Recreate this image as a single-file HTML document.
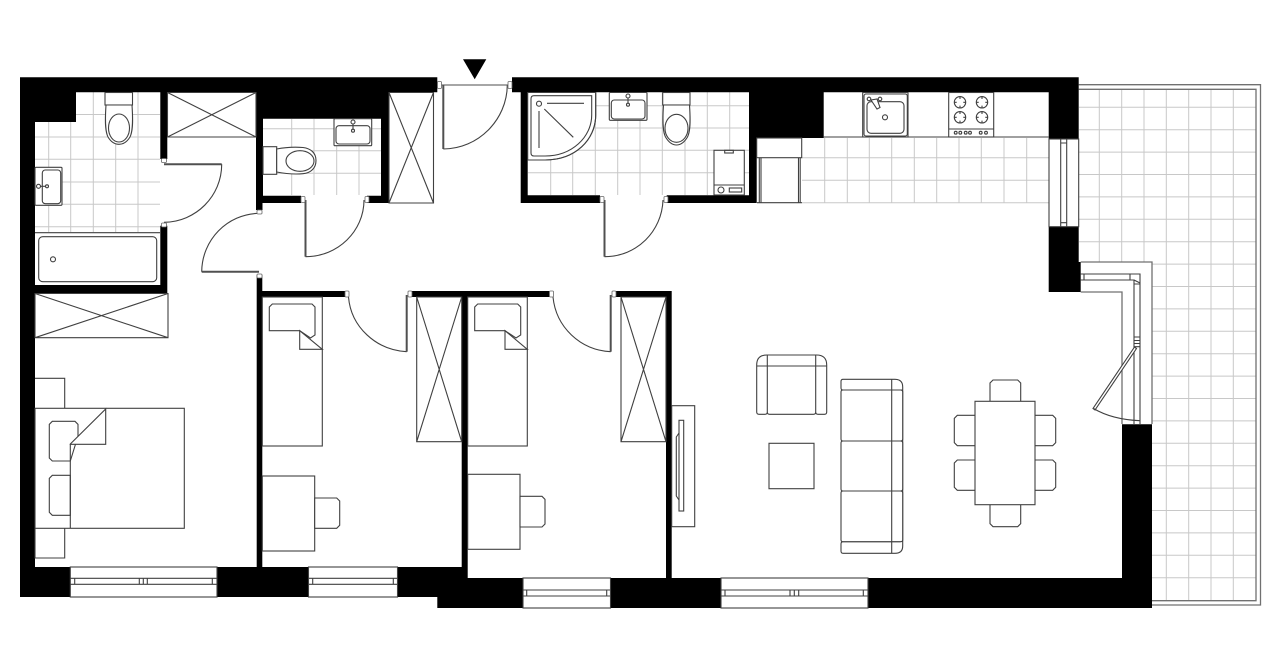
<!DOCTYPE html>
<html>
<head>
<meta charset="utf-8">
<title>Floor plan</title>
<style>
html,body{margin:0;padding:0;background:#fff;width:1280px;height:667px;overflow:hidden}
svg{display:block}
.t{fill:none;stroke:#c8c8c8;stroke-width:1}
.f{fill:#fff;stroke:#404040;stroke-width:1.1}
.n{fill:none;stroke:#404040;stroke-width:1.1}
.g{fill:none;stroke:#707070;stroke-width:1.3}
.d{fill:none;stroke:#505050;stroke-width:2}
.h{fill:#fff;stroke:#666;stroke-width:.8}
.k{fill:#000;stroke:none}
</style>
</head>
<body>
<svg width="1280" height="667" viewBox="0 0 1280 667" xmlns="http://www.w3.org/2000/svg">
<rect width="1280" height="667" fill="#fff"/>

<!-- tiles -->
<path class="t" d="M48.7 122V232M70.7 122V232M93.3 92V232M115.7 92V232M138 92V232M76 114.5H160M35 137H160M35 159.3H160M35 182H160M35 204.3H160M35 226.7H160"/>
<path class="t" d="M291.7 119V195M314 119V195M336.7 119V195M359 119V195M263 128.7H381M263 150.7H381M263 173.3H381"/>
<path class="t" d="M550.7 92V195M572.7 92V195M595.3 92V195M617.7 92V195M640 92V195M662.3 92V195M685 92V195M707.3 92V195M729.7 92V195M528 105.7H749M528 128H749M528 150.3H749M528 172.7H749"/>
<path class="t" d="M824.7 138V202.7M847.3 138V202.7M869.3 138V202.7M891.7 138V202.7M914.3 138V202.7M936.7 138V202.7M959 138V202.7M981.3 138V202.7M1004 138V202.7M1026.7 138V202.7M802 157.7H1049M802 180.3H1049M802 202.7H1049"/>

<!-- terrace grid -->
<path class="t" d="M1099.3 89V262M1121.7 89V262M1144 89V262M1166.3 89V600.5M1188.7 89V600.5M1211 89V600.5M1233.3 89V600.5
M1079 107.3H1256M1079 129.7H1256M1079 152.1H1256M1079 174.5H1256M1079 196.9H1256M1079 219.3H1256M1079 241.7H1256
M1152 264.1H1256M1152 286.5H1256M1152 308.9H1256M1152 331.3H1256M1152 353.7H1256M1152 376.1H1256M1152 398.5H1256M1152 420.9H1256M1152 443.3H1256M1152 465.7H1256M1152 488.1H1256M1152 510.5H1256M1152 532.9H1256M1152 555.3H1256M1152 577.7H1256"/>
<path class="g" d="M1078.7 84.7H1260.5V605H1152M1078.7 89.3H1256V600.7H1152"/>

<!-- walls -->
<path class="k" d="M20 77.3H437.3V92.3H389V203H367V195.7H381V118.7H263V195.7H301V203H262.5V210H256V92.3H167.3V159H160.3V92.3H76V122H35V285H160.3V225.7H167.3V293H35V567H256.7V275H262.3V291H345.5V297H262.3V567H397.5V597H20Z"/>
<path class="k" d="M410 291H549.3V297H467.7V578H523V608H437.3V597H397.5V567H461.7V297H410Z"/>
<path class="k" d="M615 291H671.7V578H721V608H610.5V578H666V297H615Z"/>
<path class="k" d="M868 578H1122V424.3H1152V608H868Z"/>
<path class="k" d="M512 77.3H1078.7V139H1048.7V92.3H823.7V138H756.7V203H666.7V195.3H749V92.3H527.7V195.3H600V203H520.7V92.3H512Z"/>
<path class="k" d="M1048.7 226.7H1078.7V262H1080.7V292H1048.7Z"/>

<!-- entrance triangle -->
<path class="k" d="M463 59.3H486.3L474.7 79.3Z"/>

<!-- closets -->
<path class="n" d="M167.5 92.5H256V137H167.5ZM167.5 92.5L256 137M256 92.5L167.5 137"/>
<path class="n" d="M389 92.5H433.5V203H389ZM389 92.5L433.5 203M433.5 92.5L389 203"/>
<path class="n" d="M35 293.5H168V337.7H35ZM35 293.5L168 337.7M168 293.5L35 337.7"/>
<path class="n" d="M416.7 297H461.7V441.7H416.7ZM416.7 297L461.7 441.7M461.7 297L416.7 441.7"/>
<path class="n" d="M621 297H666V441.7H621ZM621 297L666 441.7M666 297L621 441.7"/>

<!-- bathroom left -->
<path class="n" d="M35 232.7H160"/>
<rect class="f" x="38.7" y="236.7" width="118" height="45" rx="4"/>
<circle class="n" cx="53" cy="259.3" r="2.5"/>
<rect class="f" x="105" y="92.5" width="27.5" height="12.5"/>
<path class="f" d="M106 105C105 120 105 131 108 137C111 142 115 144.3 119 144.3C123 144.3 127 142 130 137C133 131 133 120 132 105Z"/>
<ellipse class="n" cx="119" cy="128" rx="10.5" ry="14"/>
<rect class="f" x="35" y="167.3" width="27" height="38" rx="1"/>
<rect class="n" x="42.3" y="170" width="18.4" height="33.7" rx="3"/>
<path class="n" d="M38.5 186.3H47"/>
<circle class="f" cx="38.5" cy="186.3" r="2"/><circle class="f" cx="47" cy="186.3" r="1.5"/>

<!-- WC -->
<rect class="f" x="263" y="146.7" width="13.7" height="27.6"/>
<path class="f" d="M276.7 149C287 147 296 147 303 147.5C311 148.5 316 153 316 160.5C316 168 311 173 303 173.7C296 174.3 287 174 276.7 172Z"/>
<ellipse class="n" cx="300" cy="161" rx="14" ry="10.3"/>
<rect class="f" x="334" y="118.7" width="37.7" height="27" rx="1"/>
<rect class="n" x="336" y="125.7" width="34" height="18.3" rx="3"/>
<path class="n" d="M353 122V130.7"/>
<circle class="f" cx="353" cy="122" r="2"/><circle class="f" cx="353" cy="130.7" r="1.5"/>

<!-- bathroom right -->
<path class="f" d="M527.7 92.5H595.7V115C595.7 140 575 160 545 160H527.7Z" stroke="none"/>
<path class="n" d="M595.7 92.5V115C595.7 140 575 160 545 160H527.7"/>
<path class="n" d="M534 95.7H591.7V115C591.7 137 572 156 545 156H534Q531 156 531 153V98.7Q531 95.7 534 95.7Z"/>
<circle class="n" cx="539" cy="103.7" r="2.5"/>
<path class="n" d="M547 103.3H584M539 111V148M544.3 109L573.3 137.3"/>
<rect class="f" x="609.3" y="92.5" width="37.7" height="27.8" rx="1"/>
<rect class="n" x="611.3" y="100" width="33.7" height="19" rx="3"/>
<path class="n" d="M628 96V104.7"/>
<circle class="f" cx="628" cy="96" r="2"/><circle class="f" cx="628" cy="104.7" r="1.5"/>
<rect class="f" x="662.7" y="92.5" width="27.3" height="12.5"/>
<path class="f" d="M663.5 105C662.5 120 662.5 131 665.5 137C668.5 142 672.5 145 676.5 145C680.5 145 684.5 142 687.5 137C690.5 131 690.5 120 689.5 105Z"/>
<ellipse class="n" cx="676.5" cy="128.3" rx="11.5" ry="14"/>
<rect class="f" x="714" y="150.3" width="30.3" height="44.7"/>
<path class="n" d="M714 185H744.3"/>
<rect class="n" x="724.7" y="150.3" width="8.6" height="2.7"/>
<circle class="n" cx="721" cy="190" r="3"/>
<rect class="n" x="729.3" y="188" width="12.4" height="4"/>

<!-- kitchen -->
<path class="n" d="M823.7 137H1048.7"/>
<rect class="f" x="756.7" y="138" width="45" height="19.7"/>
<path class="n" d="M759.3 157.7V202.7M761 157.7V202.7M798.5 157.7V202.7M800.2 157.7V202.7M757 202.7H802"/>
<rect class="f" x="862.7" y="92.5" width="45.3" height="44.5"/>
<rect class="n" x="864" y="94" width="43.3" height="42" rx="2"/>
<rect class="n" x="867" y="101.7" width="37" height="31.6" rx="4"/>
<circle class="n" cx="885" cy="117.3" r="2.5"/>
<circle class="f" cx="869" cy="99" r="1.8"/><circle class="f" cx="880" cy="99" r="1.8"/>
<path class="f" d="M871 100L877 109L880 107.5L877 99Z"/>
<rect class="f" x="948.7" y="92.5" width="45" height="44.5"/>
<path class="n" d="M948.7 129H993.7"/>
<g class="n">
<circle cx="960" cy="102.3" r="5.7"/><circle cx="982" cy="102.3" r="5.7"/>
<circle cx="960" cy="117.3" r="5.7"/><circle cx="982" cy="117.3" r="5.7"/>
<path d="M960 96.6V99M960 105.6V108M954.3 102.3H956.7M963.3 102.3H965.7M982 96.6V99M982 105.6V108M976.3 102.3H978.7M985.3 102.3H987.7M960 111.6V114M960 120.6V123M954.3 117.3H956.7M963.3 117.3H965.7M982 111.6V114M982 120.6V123M976.3 117.3H978.7M985.3 117.3H987.7"/>
<circle cx="955.7" cy="132.7" r="1.4"/><circle cx="960.3" cy="132.7" r="1.4"/><circle cx="965.7" cy="132.7" r="1.4"/><circle cx="970" cy="132.7" r="1.4"/><circle cx="980.7" cy="132.7" r="1.4"/><circle cx="986" cy="132.7" r="1.4"/>
</g>

<!-- kitchen window -->
<rect class="f" x="1049" y="139" width="29.7" height="87.7"/>
<path class="n" d="M1060.7 139V226.7M1066.7 139V226.7M1060.7 143H1066.7M1060.7 222.7H1066.7"/>

<!-- bottom windows -->
<g>
<rect class="f" x="70.3" y="567" width="146.7" height="30"/>
<path class="n" d="M70.3 578.3H217M70.3 584.3H217M74.7 578.3V584.3M139.3 578.3V584.3M143.3 578.3V584.3M147.3 578.3V584.3M212.3 578.3V584.3"/>
<rect class="f" x="308.5" y="567" width="89" height="30"/>
<path class="n" d="M308.5 578.3H397.5M308.5 584.3H397.5M312.7 578.3V584.3M393.3 578.3V584.3"/>
<rect class="f" x="523" y="578" width="87.5" height="30"/>
<path class="n" d="M523 590H610.5M523 596H610.5M526.7 590V596M606.7 590V596"/>
<rect class="f" x="721" y="578" width="147" height="30"/>
<path class="n" d="M721 590H868M721 596H868M725 590V596M790 590V596M794.3 590V596M798.7 590V596M863.3 590V596"/>
</g>

<!-- bay window and terrace door -->
<path d="M1081 262.5H1152V424H1122V292H1081Z" fill="#fff" stroke="none"/>
<path class="g" d="M1080.7 262H1152V424M1080.7 292H1122V424"/>
<path class="n" d="M1080.7 274H1140V337M1080.7 280H1134V337M1134 346.7V424M1140 346.7V424M1084 274V280M1130 274V280M1134 280L1140 283M1134 284H1140M1134 337H1140V346.7H1134ZM1134 340.5H1140M1134 343.5H1140"/>
<path class="f" d="M1134.5 347L1136.5 348.5L1095 410L1093 408.5Z"/>
<path class="n" d="M1093.5 408.5Q1112 419.5 1140 420.7"/>

<!-- doors: entrance -->
<path class="g" d="M441 85H510"/>
<path class="d" d="M443.3 85V149"/>
<path class="n" d="M443.3 149C478 149 507 120 507.3 85"/>
<rect class="h" x="437.5" y="81.5" width="4" height="7" rx="1"/>
<rect class="h" x="508" y="81.5" width="4" height="7" rx="1"/>
<!-- bath door -->
<path class="d" d="M164 164.3H221.7"/>
<path class="n" d="M221.7 164.3C221.7 196 196 222 164 222.3"/>
<rect class="h" x="161.5" y="158.5" width="5" height="4" rx="1"/>
<rect class="h" x="161.5" y="223" width="5" height="4" rx="1"/>
<!-- bedroom door -->
<path class="d" d="M259 271.7H201.7"/>
<path class="n" d="M201.7 271.7C202 240 227 214 259 213.3"/>
<rect class="h" x="257" y="210" width="5" height="4" rx="1"/>
<rect class="h" x="257" y="274" width="5" height="4" rx="1"/>
<!-- WC door -->
<path class="d" d="M305.5 200V256.7"/>
<path class="n" d="M305.5 256.7C338 256.7 364 231 364 200"/>
<rect class="h" x="301" y="196.5" width="4" height="6" rx="1"/>
<rect class="h" x="365" y="196.5" width="4" height="6" rx="1"/>
<!-- bath right door -->
<path class="d" d="M604.5 200V256.7"/>
<path class="n" d="M604.5 256.7C637 256.7 662 231 663 200"/>
<rect class="h" x="600" y="196.5" width="4" height="6" rx="1"/>
<rect class="h" x="664" y="196.5" width="4" height="6" rx="1"/>
<!-- room doors -->
<path class="d" d="M406.7 295V351.7"/>
<path class="n" d="M348.5 297C351 327 376 350 406.7 351.7"/>
<rect class="h" x="345" y="291" width="4" height="6" rx="1"/>
<rect class="h" x="408" y="291" width="4" height="6" rx="1"/>
<path class="d" d="M610.7 295V351.7"/>
<path class="n" d="M553 297C556 327 580 350 610.7 351.7"/>
<rect class="h" x="549.5" y="291" width="4" height="6" rx="1"/>
<rect class="h" x="612" y="291" width="4" height="6" rx="1"/>

<!-- double bed -->
<path class="n" d="M35 378.3H64.7V408.3M35 528.3V558H64.7V528.3"/>
<rect class="f" x="35" y="408.3" width="149.3" height="120"/>
<path class="f" d="M70.3 461H52.3L49.3 458V424.3L52.3 421.3H75L78 424.3V436.2Z"/>
<path class="f" d="M70.3 475.3H52.3L49.3 478.3V512.3L52.3 515.3H70.3Z"/>
<path class="n" d="M70.3 444V528.3"/>
<path class="f" d="M70.3 444L105.7 409V444.3H70.3Z"/>

<!-- single bed 1 -->
<rect class="f" x="262.3" y="297" width="60" height="149"/>
<path class="f" d="M269.3 330.7V307L272.3 304H312L315 307V335L310.5 338L299.7 330.7Z"/>
<path class="f" d="M299.7 330.7L322.3 349.3H299.7Z"/>
<!-- desk 1 -->
<rect class="f" x="262.3" y="476" width="52.4" height="75"/>
<path class="f" d="M314.7 498H336.7L339.7 501V525.3L336.7 528.3H314.7Z"/>

<!-- single bed 2 -->
<rect class="f" x="467.7" y="297" width="59.6" height="149"/>
<path class="f" d="M474.7 330.7V307L477.7 304H517.7L520.7 307V335L516 338L505 330.7Z"/>
<path class="f" d="M505 330.7L527.3 349.3H505Z"/>
<!-- desk 2 -->
<rect class="f" x="467.7" y="474.3" width="52.3" height="75"/>
<path class="f" d="M520 496.3H542L545 499.3V524L542 527H520Z"/>

<!-- TV -->
<rect class="f" x="671.7" y="405.7" width="23" height="121"/>
<path class="n" d="M679 433L676.3 437V496L679 500"/>
<rect class="n" x="679" y="420.3" width="4.7" height="90.7"/>

<!-- armchair -->
<path class="f" d="M759 414.3Q756.7 414.3 756.7 412V365Q756.7 355 767 355H816.5Q826.7 355 826.7 365V412Q826.7 414.3 824.5 414.3H818Q815.7 414.3 815.7 412Q815.7 414.3 813.5 414.3H769.5Q767.3 414.3 767.3 412Q767.3 414.3 765 414.3Z"/>
<path class="n" d="M767.3 355V412M815.7 355V412M756.7 366H826.7"/>
<rect class="f" x="769" y="443.3" width="45" height="45.4"/>

<!-- sofa -->
<path class="f" d="M843 379.3H895Q902.7 379.3 902.7 387V546Q902.7 553.3 895 553.3H843Q841 553.3 841 551V544Q841 541.7 843 541.7H900.5"/>
<path class="n" d="M843 379.3Q841 379.3 841 381.5V388Q841 390 843 390H902.7"/>
<path class="f" d="M843 390Q841 390 841 392V439Q841 441 843 441H900.5Q902.7 441 902.7 439V392Q902.7 390 900.5 390Z"/>
<path class="f" d="M843 441Q841 441 841 443V489Q841 491 843 491H900.5Q902.7 491 902.7 489V443Q902.7 441 900.5 441Z"/>
<path class="f" d="M843 491Q841 491 841 493V539.7Q841 541.7 843 541.7H900.5Q902.7 541.7 902.7 539.7V493Q902.7 491 900.5 491Z"/>
<path class="n" d="M891.7 379.3V553.3"/>

<!-- dining -->
<path class="f" d="M990 401.3V383L993 380H1017.7L1020.7 383V401.3"/>
<path class="f" d="M990 504.7V523.7L993 526.7H1017.7L1020.7 523.7V504.7"/>
<path class="f" d="M975 415.3H957.3L954.3 418.3V442.7L957.3 445.7H975"/>
<path class="f" d="M975 460H957.3L954.3 463V487.3L957.3 490.3H975"/>
<path class="f" d="M1035 415.3H1052.7L1055.7 418.3V442.7L1052.7 445.7H1035"/>
<path class="f" d="M1035 460H1052.7L1055.7 463V487.3L1052.7 490.3H1035"/>
<rect class="f" x="975" y="401.3" width="60" height="103.4"/>
</svg>
</body>
</html>
